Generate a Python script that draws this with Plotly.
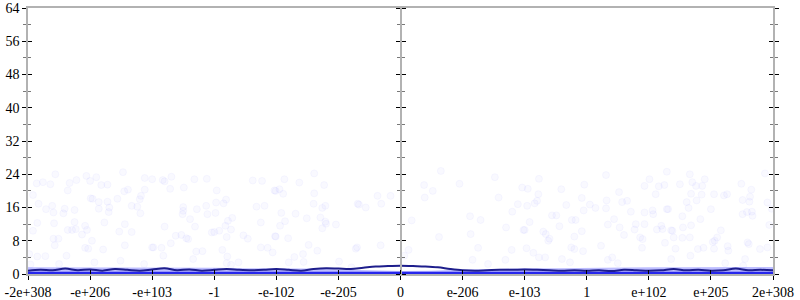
import plotly.graph_objects as go

# ---------------- data ----------------
tick_pos = [-6, -5, -4, -3, -2, -1, 0, 1, 2, 3, 4, 5, 6]
tick_labels = ["-2e+308", "-e+206", "-e+103", "-1", "-e-102", "-e-205", "0",
               "e-206", "e-103", "1", "e+102", "e+205", "2e+308"]
y_ticks = [0, 8, 16, 24, 32, 40, 48, 56, 64]

pts_x = [
    -5.56, -5.06, -4.90, -4.47, -4.12, -5.86, -5.76, -5.64, -5.33, -5.22, -5.00, -4.82, -4.72,
    -5.92, -5.36, -4.45, -4.39, -4.12, -5.83, -5.61, -4.99, -4.96, -4.86, -4.72, -4.56, -4.20,
    -4.18, -4.33, -4.24, -5.71, -5.59, -5.41, -5.25, -4.86, -4.69, -4.70, -5.43, -4.19, -5.85,
    -5.58, -5.25, -4.77, -4.44, -5.92, -5.36, -5.29, -5.23, -5.08, -5.05, -5.13, -4.53, -4.33,
    -5.59, -5.51, -4.97, -5.57, -5.08, -5.03, -4.79, -4.44, -4.00, -5.98, -5.85, -5.72, -5.38,
    -4.93, -5.50, -4.51, -4.13, -5.96,
    -4.00, -3.83, -3.80, -3.69, -3.32, -3.12, -2.38, -2.23, -3.71, -3.49, -2.96, -2.03, -3.50,
    -3.50, -3.51, -3.28, -3.13, -2.97, -2.85, -2.81, -2.32, -2.19, -3.11, -2.98, -3.39, -2.78,
    -2.71, -2.25, -3.80, -3.31, -2.82, -2.73, -3.04, -3.00, -2.92, -3.62, -3.53, -3.45, -3.42,
    -2.80, -2.53, -2.46, -2.02, -3.70, -3.98, -3.85, -2.25, -2.14, -2.06, -3.29, -3.19, -2.87,
    -3.82, -3.34, -2.79, -2.80, -2.61, -2.73,
    -1.39, -1.87, -1.63, -1.23, -1.95, -2.01, -1.89, -1.39, -0.37, -0.16, -0.69, -0.67, -1.40,
    -1.21, -1.26, -0.56, -0.31, -1.92, -1.69, -1.51, -1.29, -1.21, -1.20, -1.04, -1.26, -1.86,
    -1.94, -2.01, -1.81, -0.70, -0.72, -1.48, -1.34, -0.32, -1.57, -1.71, -1.80, -1.56, -0.99,
    -0.79,
    0.65, 1.52, 0.38, 0.95, 0.52, 0.39, 1.58, 1.96, 1.89, 1.80, 1.12, 1.29, 0.18, 1.70, 1.98,
    1.13, 0.62, 0.13, 0.06, 1.25, 1.79, 1.16, 1.69, 1.41,
    2.23, 3.31, 2.96, 3.93, 2.05, 2.59, 2.22, 3.52, 2.20, 2.16, 2.04, 2.67, 2.92, 3.05, 3.14,
    3.32, 3.31, 3.57, 3.65, 2.95, 3.71, 3.93, 2.44, 2.51, 2.76, 2.82, 3.44, 2.08, 2.56, 3.34,
    3.53, 3.79, 3.93, 2.00, 2.30, 2.34, 2.92, 3.77, 2.40, 2.38, 2.80, 3.60, 3.86, 3.90, 2.03,
    2.14, 2.23, 2.33, 2.75, 2.80, 2.94, 3.23, 3.89, 2.60, 3.34, 3.41, 2.73, 3.50,
    4.29, 4.66, 5.87, 4.01, 4.16, 4.25, 4.50, 4.70, 4.76, 4.86, 4.90, 4.68, 4.85, 5.05, 5.21,
    5.26, 5.49, 5.65, 5.63, 4.11, 4.61, 4.77, 5.51, 5.62, 5.91, 4.06, 4.07, 4.29, 4.31, 4.54,
    4.64, 4.83, 5.00, 5.51, 5.58, 5.66, 5.67, 5.98, 4.20, 4.22, 4.13, 4.36, 4.38, 4.55, 4.68,
    5.16, 5.94, 4.40, 4.54, 4.66, 5.10, 5.03, 5.06, 5.59, 5.61, 4.26, 4.43, 4.79, 4.88, 5.05,
    5.27, 5.28, 5.79, 5.91, 4.67, 4.36, 5.23, 5.55, 5.52,
]
pts_y = [
    24.0, 23.6, 23.3, 24.5, 23.1, 21.8, 22.1, 21.6, 21.9, 22.6, 22.4, 21.4, 21.5,
    19.0, 20.1, 19.9, 20.3, 20.3, 16.9, 16.4, 18.2, 18.1, 17.3, 17.4, 18.1, 18.0,
    18.8, 16.4, 16.2, 15.6, 14.8, 15.7, 15.4, 15.7, 16.0, 14.9, 14.6, 14.6, 12.3,
    12.2, 12.5, 12.4, 12.0, 10.4, 10.6, 10.6, 10.8, 11.6, 10.6, 9.5, 10.2, 10.1,
    8.5, 8.5, 8.0, 6.9, 6.3, 6.1, 5.9, 6.9, 6.4, 4.8, 4.2, 4.3, 4.4,
    2.8, 2.4, 3.2, 2.4, 2.3,
    22.8, 22.6, 22.3, 23.4, 22.8, 22.9, 22.5, 22.4, 20.5, 20.8, 20.1, 20.1, 16.1,
    15.2, 14.4, 15.6, 16.4, 17.2, 17.0, 17.9, 16.2, 16.4, 14.4, 14.7, 13.2, 12.8,
    13.5, 12.4, 11.4, 11.4, 11.6, 10.7, 10.0, 10.1, 10.4, 9.2, 9.4, 8.6, 8.4,
    8.9, 9.3, 8.5, 9.1, 7.4, 6.4, 6.3, 6.4, 6.3, 5.2, 5.4, 5.5, 5.8,
    4.4, 3.6, 4.2, 2.6, 2.8, 2.2,
    24.2, 22.8, 22.0, 21.4, 20.4, 20.0, 19.3, 19.4, 18.8, 18.8, 16.9, 16.7, 16.9,
    16.4, 15.9, 16.0, 16.9, 14.7, 14.5, 13.4, 13.6, 12.6, 12.1, 11.9, 11.0, 12.7,
    11.6, 9.0, 8.6, 6.4, 6.1, 7.0, 5.6, 6.9, 4.8, 4.1, 2.8, 2.9, 3.0,
    1.6,
    24.8, 23.3, 21.4, 21.7, 20.0, 18.4, 18.4, 20.8, 16.8, 15.0, 13.9, 13.0, 12.9, 11.2, 10.6,
    9.6, 8.9, 5.8, 4.4, 6.3, 5.8, 3.4, 3.4, 2.4,
    22.9, 23.8, 21.5, 21.2, 20.5, 20.4, 19.2, 19.7, 17.6, 17.0, 16.4, 16.6, 18.3, 16.7, 15.9,
    17.7, 15.8, 17.3, 17.6, 15.3, 15.0, 14.8, 14.1, 14.1, 13.0, 13.0, 13.2, 12.5, 11.5, 11.9,
    11.2, 12.0, 12.0, 10.6, 10.2, 9.6, 10.3, 10.7, 8.5, 8.0, 9.0, 9.4, 8.8, 8.4, 6.2,
    5.1, 4.0, 4.0, 6.4, 6.0, 5.5, 6.8, 6.3, 3.6, 3.4, 4.0, 2.8, 2.6,
    24.6, 24.0, 24.2, 22.8, 21.1, 21.4, 21.6, 22.1, 21.2, 21.2, 22.8, 19.3, 19.1, 19.2, 18.9,
    19.2, 21.7, 20.3, 18.6, 19.2, 17.3, 17.7, 17.8, 17.4, 17.2, 15.3, 14.4, 15.6, 15.6, 13.9,
    15.9, 13.2, 15.6, 14.4, 14.9, 15.0, 14.0, 15.7, 11.6, 10.8, 10.7, 10.5, 10.4, 11.2, 11.7,
    10.5, 11.8, 8.8, 8.7, 8.8, 8.8, 7.7, 8.0, 7.6, 7.2, 7.5, 6.1, 6.0, 6.3, 6.1,
    6.7, 5.6, 6.0, 6.4, 4.4, 3.6, 2.6, 3.6, 2.0,
]

line_x = [-6.0, -5.8, -5.6, -5.4, -5.2, -5.0, -4.8, -4.6, -4.4, -4.2, -4.0, -3.8, -3.6, -3.4,
          -3.2, -3.0, -2.8, -2.6, -2.4, -2.2, -2.0, -1.8, -1.6, -1.4, -1.2, -1.0, -0.8, -0.6,
          -0.4, -0.2, 0.0, 0.2, 0.4, 0.6, 0.8, 1.0, 1.2, 1.4, 1.6, 1.8, 2.0, 2.2, 2.4, 2.6,
          2.8, 3.0, 3.2, 3.4, 3.6, 3.8, 4.0, 4.2, 4.4, 4.6, 4.8, 5.0, 5.2, 5.4, 5.6, 5.8, 6.0]
line_y = [0.8, 1.0, 0.9, 1.3, 0.9, 1.1, 0.8, 1.2, 1.0, 0.8, 1.1, 1.4, 0.9, 1.1,
          0.8, 1.0, 1.2, 1.0, 0.9, 1.0, 1.2, 1.0, 0.8, 1.2, 1.4, 1.3, 1.2, 1.5,
          1.8, 1.9, 2.0, 1.9, 1.8, 1.6, 1.2, 0.9, 0.8, 0.9, 1.0, 1.0, 1.1, 1.0, 0.9, 0.8,
          0.9, 0.8, 0.9, 0.7, 1.0, 0.9, 0.8, 0.9, 1.2, 0.9, 1.0, 0.8, 0.9, 1.3, 0.9, 1.0, 0.9]

band_x = [-6, -5.5, -5, -4.5, -4, -3.5, -3, -2.5, -2, -1.5, -1, -0.5, 0, 0.5, 1, 1.5, 2,
          2.5, 3, 3.5, 4, 4.5, 5, 5.5, 6]
band_top = [1.6, 1.6, 1.6, 1.6, 1.6, 1.5, 1.5, 1.4, 1.4, 1.3, 1.1, 0.9, 0.7, 0.8, 1.1, 1.2,
            1.4, 1.4, 1.5, 1.5, 1.6, 1.6, 1.7, 1.7, 1.7]
base_y = [0.2] * len(band_x)

# ---------------- figure ----------------
AX = "rgb(178,178,178)"
fig = go.Figure()

fig.add_trace(go.Scatter(x=band_x, y=band_top, mode="lines", line=dict(width=0),
                         fill="tozeroy", fillcolor="rgba(110,110,255,0.45)",
                         hoverinfo="skip", showlegend=False))
fig.add_trace(go.Scatter(x=pts_x, y=pts_y, mode="markers",
                         marker=dict(size=7, color="rgba(0,0,255,0.05)", opacity=0.45,
                                     line=dict(width=0.8, color="rgba(0,0,255,0.08)")),
                         showlegend=False))
fig.add_trace(go.Scatter(x=band_x, y=base_y, mode="lines",
                         line=dict(width=3, color="rgba(30,30,235,0.95)"),
                         hoverinfo="skip", showlegend=False))
fig.add_trace(go.Scatter(x=line_x, y=line_y, mode="lines",
                         line=dict(width=2, color="rgb(30,30,140)", shape="spline"),
                         showlegend=False))

font = dict(family="Liberation Serif", size=14, color="black")
minor_y = dict(dtick=4, ticklen=3, tickcolor="rgb(120,120,120)", tickwidth=1)

def yax(**kw):
    d = dict(range=[0, 64], tickvals=y_ticks, ticklen=4, tickcolor="black", tickwidth=1,
             showgrid=False, zeroline=False, fixedrange=True, automargin=False)
    d.update(kw)
    return d

fig.update_layout(
    width=800, height=300,
    margin=dict(l=28, r=27, t=8, b=26),
    paper_bgcolor="white", plot_bgcolor="white",
    font=font,
    xaxis=dict(range=[-6, 6], tickvals=tick_pos, ticktext=tick_labels, ticks="outside",
               ticklen=4, tickcolor="black", showline=True, linecolor=AX, linewidth=1.5,
               mirror=True, showgrid=False, zeroline=False, tickfont=font, automargin=False),
    xaxis2=dict(range=[-6, 6], overlaying="x", matches="x", tickvals=tick_pos, ticks="inside",
                ticklen=4, tickcolor="black", showticklabels=False, showline=False,
                showgrid=False, zeroline=False, anchor="y", automargin=False),
    yaxis=yax(ticks="outside", showline=True, linecolor=AX, linewidth=1.5, tickfont=font,
              minor=dict(ticks="outside", **minor_y)),
    yaxis2=yax(overlaying="y", side="left", anchor="x", ticks="inside", showticklabels=False,
               minor=dict(ticks="inside", **minor_y)),
    yaxis3=yax(overlaying="y", side="left", anchor="free", position=0.5, ticks="outside",
               showticklabels=False, showline=True, linecolor=AX, linewidth=1.5,
               minor=dict(ticks="outside", **minor_y)),
    yaxis4=yax(overlaying="y", side="right", anchor="free", position=0.5, ticks="outside",
               showticklabels=False, minor=dict(ticks="outside", **minor_y)),
    yaxis5=yax(overlaying="y", side="right", anchor="x", ticks="outside", showticklabels=False,
               showline=True, linecolor=AX, linewidth=1.5,
               minor=dict(ticks="outside", **minor_y)),
    yaxis6=yax(overlaying="y", side="right", anchor="x", ticks="inside", showticklabels=False,
               minor=dict(ticks="inside", **minor_y)),
)

# attach empty helper traces so every overlay axis is drawn
for ya in ["y2", "y3", "y4", "y5", "y6"]:
    fig.add_trace(go.Scatter(x=[None], y=[None], yaxis=ya, showlegend=False, hoverinfo="skip"))
fig.add_trace(go.Scatter(x=[None], y=[None], xaxis="x2", showlegend=False, hoverinfo="skip"))

fig.write_html("out.html")
